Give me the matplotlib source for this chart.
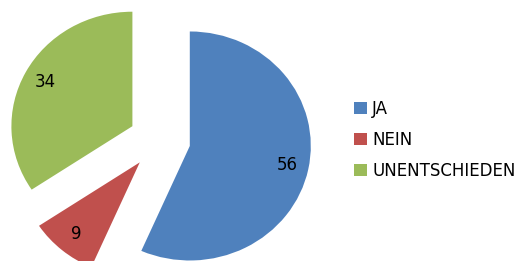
import matplotlib
matplotlib.use('Agg')
import matplotlib.pyplot as plt

plt.rcParams['font.family'] = ['DejaVu Sans']

# 数据
categories = ['JA', 'NEIN', 'UNENTSCHIEDEN']
values = [56, 9, 34]
colors = ['#4F81BD', '#C0504D', '#9BBB59']
total = sum(values)

fig = plt.figure(figsize=(5.2, 2.61), dpi=100)
ax = fig.add_axes([0, 0, 1, 1])

wedges, texts, autotexts = ax.pie(
    values,
    colors=colors,
    startangle=90,
    counterclock=False,
    explode=[0.255] * len(values),
    autopct=lambda p: f"{round(p * total / 100):.0f}",
    pctdistance=0.82,
    textprops={'fontsize': 12, 'color': 'black'},
    wedgeprops={'linewidth': 0},
)

# 椭圆形（横向略宽）
ax.set_aspect('auto')
rx, ry = 121.0, 114.5
cx, cy = 159.6, 140.0
ax.set_xlim(-cx / rx, (520 - cx) / rx)
ax.set_ylim(-(261 - cy) / ry, cy / ry)
ax.axis('off')

leg = fig.legend(
    wedges, categories,
    loc='upper left',
    bbox_to_anchor=(354 / 520, 1 - 100 / 261),
    frameon=False,
    fontsize=12,
    handlelength=0.75,
    handleheight=0.75,
    handletextpad=0.35,
    labelspacing=0.78,
    borderpad=0,
    borderaxespad=0,
)

fig.savefig('out.png', dpi=100)
